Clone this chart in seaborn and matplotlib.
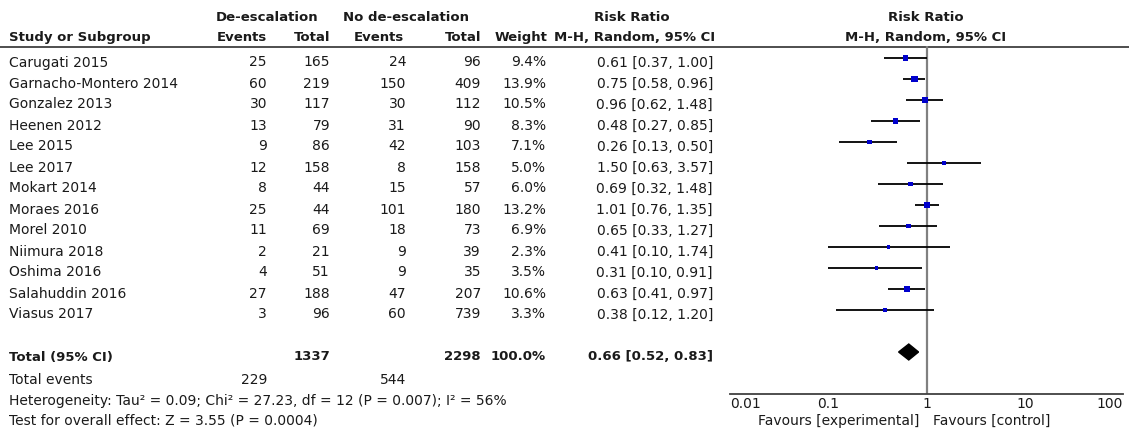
import numpy as np
import pandas as pd
import matplotlib
matplotlib.use("Agg")
import matplotlib.pyplot as plt
from matplotlib.ticker import NullLocator
import seaborn as sns

#_____1. DATA_____
studies = ["Carugati 2015", "Garnacho-Montero 2014", "Gonzalez 2013", "Heenen 2012",
           "Lee 2015", "Lee 2017", "Mokart 2014", "Moraes 2016", "Morel 2010",
           "Niimura 2018", "Oshima 2016", "Salahuddin 2016", "Viasus 2017"]
de_events = [25, 60, 30, 13, 9, 12, 8, 25, 11, 2, 4, 27, 3]
de_total = [165, 219, 117, 79, 86, 158, 44, 44, 69, 21, 51, 188, 96]
no_events = [24, 150, 30, 31, 42, 8, 15, 101, 18, 9, 9, 47, 60]
no_total = [96, 409, 112, 90, 103, 158, 57, 180, 73, 39, 35, 207, 739]
weight = [9.4, 13.9, 10.5, 8.3, 7.1, 5.0, 6.0, 13.2, 6.9, 2.3, 3.5, 10.6, 3.3]
rr = [0.61, 0.75, 0.96, 0.48, 0.26, 1.50, 0.69, 1.01, 0.65, 0.41, 0.31, 0.63, 0.38]
ci_lo = [0.37, 0.58, 0.62, 0.27, 0.13, 0.63, 0.32, 0.76, 0.33, 0.10, 0.10, 0.41, 0.12]
ci_hi = [1.00, 0.96, 1.48, 0.85, 0.50, 3.57, 1.48, 1.35, 1.27, 1.74, 0.91, 0.97, 1.20]

total_de, total_no = 1337, 2298
events_de, events_no = 229, 544
total_rr, total_lo, total_hi = 0.66, 0.52, 0.83
heterogeneity = "Heterogeneity: Tau\u00b2 = 0.09; Chi\u00b2 = 27.23, df = 12 (P = 0.007); I\u00b2 = 56%"
overall = "Test for overall effect: Z = 3.55 (P = 0.0004)"

axis_ticks = [0.01, 0.1, 1, 10, 100]
axis_labels = ["0.01", "0.1", "1", "10", "100"]

df = pd.DataFrame({"study": studies, "rr": rr, "lo": ci_lo, "hi": ci_hi, "weight": weight})
df["row"] = np.arange(len(df))
total_row = len(df) + 1

#_____2. LAYOUT_____
sns.set_style("white")
plt.rcParams["font.family"] = ["DejaVu Sans"]
FS = 10
FS_HEAD = 9.5
INK = "#1a1a1a"
W, H = 1129, 432
ROW0, STEP = 58, 21

def base(i):
    # text baseline for table row i (pixels)
    return ROW0 + STEP * i + 8.5

fig = plt.figure(figsize=(W / 100, H / 100), dpi=100)
tx = fig.add_axes([0, 0, 1, 1])
tx.set_xlim(0, W)
tx.set_ylim(H, 0)
tx.axis("off")

def put(x, y, s, ha="right", bold=False, size=None):
    tx.text(x, y, s, ha=ha, va="baseline", fontsize=size or FS, color=INK,
            fontweight="bold" if bold else "normal")

def head(x, y, s, ha="right"):
    put(x, y, s, ha=ha, bold=True, size=FS_HEAD)

#_____3. TABLE_____
head(267, 21, "De-escalation", ha="center")
head(406, 21, "No de-escalation", ha="center")
head(632, 21, "Risk Ratio", ha="center")
head(926, 21, "Risk Ratio", ha="center")
head(9, 41, "Study or Subgroup", ha="left")
head(267, 41, "Events")
head(330, 41, "Total")
head(404, 41, "Events")
head(481, 41, "Total")
head(547, 41, "Weight")
head(715, 41, "M-H, Random, 95% CI")
head(926, 41, "M-H, Random, 95% CI", ha="center")
tx.plot([0, W], [46.5, 46.5], color="#404040", lw=1.3)

for i in range(len(studies)):
    y = base(i)
    put(9, y, studies[i], ha="left")
    put(267, y, str(de_events[i]))
    put(330, y, str(de_total[i]))
    put(406, y, str(no_events[i]))
    put(481, y, str(no_total[i]))
    put(546, y, f"{weight[i]:.1f}%")
    put(713, y, f"{rr[i]:.2f} [{ci_lo[i]:.2f}, {ci_hi[i]:.2f}]")

y = base(total_row)
put(9, y, "Total (95% CI)", ha="left", bold=True, size=FS_HEAD)
put(330, y, str(total_de), bold=True, size=FS_HEAD)
put(481, y, str(total_no), bold=True, size=FS_HEAD)
put(546, y, f"{sum(weight):.1f}%", bold=True, size=FS_HEAD)
put(713, y, f"{total_rr:.2f} [{total_lo:.2f}, {total_hi:.2f}]", bold=True, size=FS_HEAD)
put(9, y + 24, "Total events", ha="left")
put(267, y + 24, str(events_de))
put(406, y + 24, str(events_no))
put(9, y + 44, heterogeneity, ha="left")
put(9, y + 64, overall, ha="left")

put(919, 425, "Favours [experimental]")
put(933, 425, "Favours [control]", ha="left")

#_____4. FOREST_____
fa = fig.add_axes([730 / W, 1 - 394 / H, 393 / W, 348 / H])
fa.patch.set_alpha(0)
fa.axvline(1, color="#808080", lw=1.6, zorder=1)
fa.hlines(df["row"], df["lo"], df["hi"], color="black", lw=1.3, zorder=2)
sns.scatterplot(data=df, x="rr", y="row", size="weight", sizes=(5, 24),
                size_norm=(min(weight), max(weight)), marker="s", color="#0000cc",
                linewidth=0, legend=False, ax=fa, zorder=3)
fa.fill([total_lo, total_rr, total_hi, total_rr],
        [total_row, total_row - 0.38, total_row, total_row + 0.38],
        color="black", zorder=3)

fa.set_xscale("log")
fa.set_xlim(0.01, 100)
fa.set_ylim(16.0, -0.571)
fa.set_xticks(axis_ticks)
fa.set_xticklabels(axis_labels)
fa.xaxis.set_minor_locator(NullLocator())
fa.set_yticks([])
fa.set_xlabel("")
fa.set_ylabel("")
for side in ["top", "left", "right"]:
    fa.spines[side].set_visible(False)
fa.spines["bottom"].set_color("#404040")
fa.spines["bottom"].set_linewidth(1.3)
fa.tick_params(axis="x", direction="inout", length=8, width=1.2, color="#404040",
               pad=-1.5, labelsize=FS, labelcolor=INK)
tl = fa.get_xticklabels()
tl[0].set_ha("left")
tl[-1].set_ha("right")

fig.savefig("out.png", dpi=100)
